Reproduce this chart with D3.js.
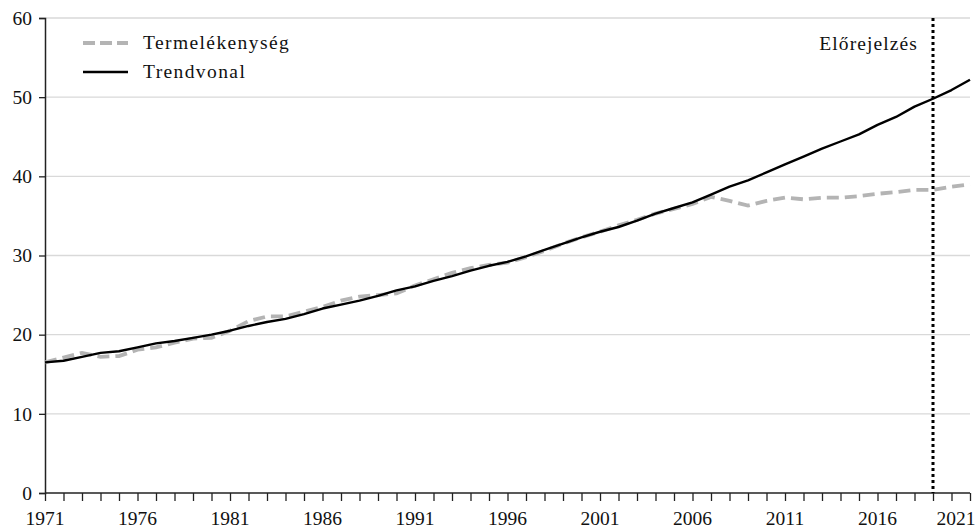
<!DOCTYPE html>
<html>
<head>
<meta charset="utf-8">
<script src="https://cdn.jsdelivr.net/npm/d3@7"></script>
<style>
  body { margin: 0; background: #fff; }
  svg { font-family: "Liberation Serif", "DejaVu Serif", serif; }
</style>
</head>
<body>
<svg class="chart-svg"><g class="g-main"></g></svg>
<script>
var years = d3.range(1971, 2022);

var productivity = [16.5, 17.1, 17.7, 17.2, 17.3, 18.1, 18.4, 19.0, 19.5, 19.6,
  20.5, 21.7, 22.3, 22.3, 22.9, 23.5, 24.3, 24.8, 25.0, 25.2,
  26.2, 27.0, 27.8, 28.4, 28.8, 29.1, 29.8, 30.6, 31.5, 32.3,
  33.0, 33.8, 34.5, 35.3, 35.9, 36.5, 37.4, 36.9, 36.3, 36.9,
  37.3, 37.1, 37.3, 37.3, 37.5, 37.8, 38.0, 38.3, 38.3, 38.7, 39.0];

var trend = [16.5, 16.7, 17.2, 17.7, 17.9, 18.4, 18.9, 19.2, 19.6, 20.0,
  20.5, 21.1, 21.6, 22.0, 22.6, 23.3, 23.8, 24.3, 24.9, 25.6,
  26.1, 26.8, 27.4, 28.1, 28.7, 29.2, 29.9, 30.7, 31.5, 32.3,
  33.0, 33.6, 34.4, 35.3, 36.0, 36.7, 37.7, 38.7, 39.5, 40.5,
  41.5, 42.5, 43.5, 44.4, 45.3, 46.5, 47.5, 48.8, 49.8, 50.9, 52.2];

var yTicks = [0, 10, 20, 30, 40, 50, 60];
var xLabelYears = [1971, 1976, 1981, 1986, 1991, 1996, 2001, 2006, 2011, 2016, 2021];
var forecastYear = 2019;
var forecastLabel = 'Előrejelzés';
var seriesNames = ['Termelékenység', 'Trendvonal'];

var W = 978, H = 530;
var margin = { top: 18, right: 8, bottom: 37, left: 45 };
var w = W - margin.left - margin.right;
var h = H - margin.top - margin.bottom;

var svg = d3.select('.chart-svg').attr('width', W).attr('height', H);
var g = svg.select('.g-main').attr('transform', `translate(${margin.left}, ${margin.top})`);

var x = d3.scaleLinear().domain([1971, 2021]).range([0, 925]);
var y = d3.scaleLinear().domain([0, 60]).range([h, 0]);

// gridlines
g.selectAll('.grid').data(yTicks.filter(d => d > 0)).join('line').attr('class', 'grid')
  .attr('x1', 0).attr('x2', w)
  .attr('y1', d => y(d)).attr('y2', d => y(d))
  .style('stroke', '#d9d9d9').style('stroke-width', 1.3);

// y axis
var yAxis = g.append('g').attr('class', 'y-axis')
  .call(d3.axisLeft(y).tickValues(yTicks).tickSize(6).tickPadding(7));
yAxis.select('.domain').style('stroke', '#222').style('stroke-width', 1.5);
yAxis.selectAll('.tick line').style('stroke', '#222').style('stroke-width', 1.3);
yAxis.selectAll('.tick text').style('font-size', '19.5px').style('fill', '#111')
  .style('font-family', '"Liberation Serif", serif');

// x axis
var xAxis = g.append('g').attr('class', 'x-axis').attr('transform', `translate(0, ${h})`)
  .call(d3.axisBottom(x).tickValues(years).tickSize(8).tickFormat(''));
xAxis.select('.domain').attr('d', `M0,0H${w}`).style('stroke', '#222').style('stroke-width', 1.5);
xAxis.selectAll('.tick line').style('stroke', '#222').style('stroke-width', 1.3);

g.selectAll('.x-label').data(xLabelYears).join('text').attr('class', 'x-label')
  .attr('x', d => d === 2021 ? x(d) - 14 : x(d))
  .attr('y', h + 32)
  .style('text-anchor', 'middle')
  .style('font-size', '19.5px').style('fill', '#111')
  .text(d => d);

var line = d3.line().x((d, i) => x(years[i])).y(d => y(d));

g.append('path').datum(productivity)
  .attr('d', line)
  .style('fill', 'none').style('stroke', '#b4b4b4').style('stroke-width', 3.8)
  .style('stroke-dasharray', '12,6');

g.append('path').datum(trend)
  .attr('d', line)
  .style('fill', 'none').style('stroke', '#000').style('stroke-width', 2.4)
  .style('stroke-linejoin', 'round');

// forecast marker
g.append('line')
  .attr('x1', x(forecastYear)).attr('x2', x(forecastYear))
  .attr('y1', y(60)).attr('y2', h)
  .style('stroke', '#000').style('stroke-width', 3).style('stroke-dasharray', '3,3');

g.append('text')
  .attr('x', x(forecastYear) - 15).attr('y', 50 - margin.top)
  .style('text-anchor', 'end')
  .style('font-size', '19.5px').style('letter-spacing', '1.1px').style('fill', '#111')
  .text(forecastLabel);

// legend
var legend = g.append('g').attr('transform', `translate(${83 - margin.left}, ${43 - margin.top})`);
legend.append('line').attr('x1', 0).attr('x2', 45).attr('y1', 0).attr('y2', 0)
  .style('stroke', '#b4b4b4').style('stroke-width', 3.8).style('stroke-dasharray', '12,5');
legend.append('line').attr('x1', 0).attr('x2', 45).attr('y1', 29).attr('y2', 29)
  .style('stroke', '#000').style('stroke-width', 2.4);
legend.selectAll('.leg-text').data(seriesNames).join('text').attr('class', 'leg-text')
  .attr('x', 60).attr('y', (d, i) => i * 29 + 6)
  .style('font-size', '19.5px').style('letter-spacing', '1.4px').style('fill', '#111')
  .text(d => d);
</script>
</body>
</html>
